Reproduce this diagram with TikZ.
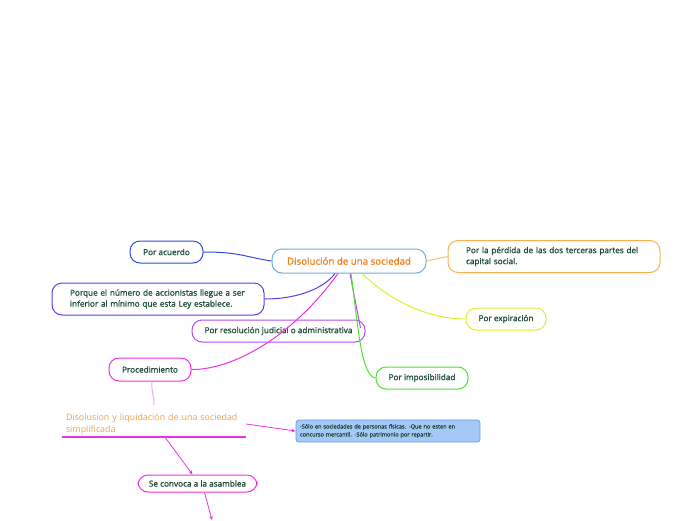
\documentclass[tikz,border=0pt]{standalone}
\usepackage{fontspec}
\setmainfont{Open Sans}
\newfontfamily\semib[FakeBold=1.2]{Open Sans}
\usetikzlibrary{arrows.meta,positioning}
\definecolor{txtdark}{HTML}{1F4A3A}
\definecolor{centroline}{HTML}{6AAEE0}
\definecolor{centrotxt}{HTML}{F07F20}
\definecolor{acuerdoc}{HTML}{2B50D8}
\definecolor{porquec}{HTML}{5A3DE8}
\definecolor{resolc}{HTML}{B44DE8}
\definecolor{magc}{HTML}{F030E0}
\definecolor{pinkc}{HTML}{F4A8EC}
\definecolor{expirc}{HTML}{D8F030}
\definecolor{imposc}{HTML}{50E030}
\definecolor{perdidac}{HTML}{F8B050}
\definecolor{notafill}{HTML}{A5C8F8}
\definecolor{notaline}{HTML}{6A9AE8}
\definecolor{disoltxt}{HTML}{F0A050}
\tikzset{
  tema/.style={rounded corners=10pt, draw, line width=1pt, inner sep=0pt},
  lab/.style={font=\semib\fontsize{8.2}{11}\selectfont, text=txtdark},
  largo/.style={lab, text width=176pt, align=left, inner xsep=18pt, inner ysep=0pt, minimum height=32pt},
  nota/.style={rounded corners=3pt, draw=notaline, fill=notafill, line width=0.8pt, inner xsep=4pt,
    text width=176pt, minimum height=22pt, align=left, font=\semib\fontsize{5.6}{8}\selectfont, text=txtdark},
  rama/.style={line width=1pt},
  flecha/.style={-{Stealth[length=4pt,width=3.5pt]}, line width=0.8pt, magc}
}

\begin{document}
\begin{tikzpicture}[x=1pt,y=-1pt]
\useasboundingbox (0,0) rectangle (696,520);

% ---------------- Central topic ----------------
\node[tema, draw=centroline, minimum width=154pt, minimum height=24pt,
  font=\semib\fontsize{9.7}{11}\selectfont, text=centrotxt] (centro) at (349,261) {Disolución de una sociedad};

% ---------------- Main branches ----------------
\node[tema, lab, draw=acuerdoc, minimum width=73pt, minimum height=22pt] (acuerdo) at (166.5,252) {Por acuerdo};
\node[tema, largo, draw=perdidac] (perdida) at (554,256.5) {Por la pérdida de las dos terceras partes del\\ capital social.};
\node[tema, largo, draw=porquec] (porque) at (158,299) {Porque el número de accionistas llegue a ser\\ inferior al mínimo que esta Ley establece.};
\node[tema, lab, draw=resolc, minimum width=173pt, minimum height=22pt] (resol) at (278.5,331) {Por resolución judicial o administrativa};
\node[tema, lab, draw=expirc, minimum width=80pt, minimum height=22pt] (expir) at (506,319) {Por expiración};
\node[tema, lab, draw=imposc, minimum width=92pt, minimum height=22pt] (impos) at (422,378) {Por imposibilidad};
\node[tema, lab, draw=magc, minimum width=82pt, minimum height=23pt] (proced) at (150,369.5) {Procedimiento};

\draw[rama, acuerdoc] (acuerdo.east) .. controls (240,252) and (245,257) .. (centro.west);
\draw[rama, perdidac!80] (centro.east) -- (perdida.west);
\draw[rama, porquec] (porque.east) .. controls (300,299) and (325,287) .. ([xshift=-14pt]centro.south);
\draw[rama, resolc] ([xshift=1pt]centro.south) .. controls (354,295) and (358,315) .. ([xshift=-5pt,yshift=3pt]resol.east);
\draw[rama, imposc] ([xshift=2pt]centro.south) .. controls (358,325) and (361,376) .. (impos.west);
\draw[rama, expirc] ([xshift=13pt]centro.south) .. controls (400,310) and (440,319) .. (expir.west);
\draw[rama, magc] ([xshift=-11pt]centro.south) .. controls (290,340) and (230,370) .. (proced.east);

% ---------------- Procedimiento ----------------
\node[text width=176pt, inner xsep=4pt, inner ysep=0pt, minimum height=26pt, align=left,
  font=\fontsize{8.9}{12.5}\selectfont, text=disoltxt] (disol) at (154,424)
  {Disolusion y liquidación de una sociedad\\ simplificada};
\draw[magc, line width=1.5pt] (disol.south west) -- (disol.south east);
\draw[rama, pinkc] ([xshift=2pt]proced.south) .. controls (151,392) and (155,398) .. ([yshift=6pt]disol.north);

\node[nota] (requisitos) at (388,431) {-Sólo en sociedades de personas físicas. -Que no esten en\\ concurso mercantil. -Sólo patrimonio por repartir.};
\node[tema, lab, draw=magc, minimum width=119pt, minimum height=17pt] (convoca) at (197.5,483.5) {Se convoca a la asamblea};
\coordinate (fin) at (212,520);

\draw[flecha] (disol.east) -- (requisitos.west);
\draw[flecha] ([xshift=11pt]disol.south) -- ([xshift=-5pt]convoca.north);
\draw[flecha] ([xshift=7pt]convoca.south) -- (fin);

\end{tikzpicture}
\end{document}
